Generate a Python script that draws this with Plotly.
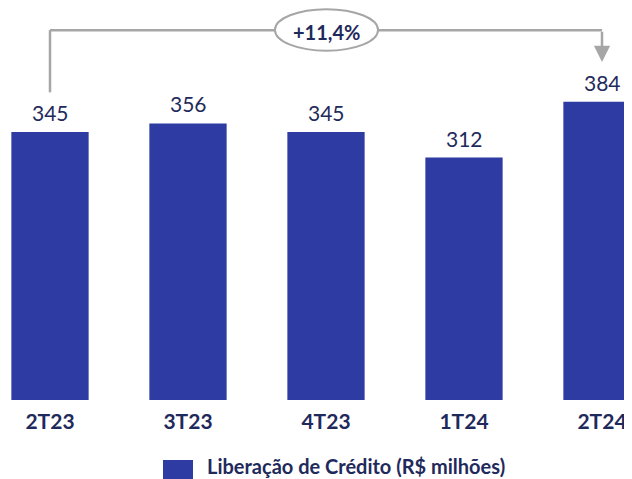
import plotly.graph_objects as go

categories = ["2T23", "3T23", "4T23", "1T24", "2T24"]
values = [345, 356, 345, 312, 384]
growth_label = "+11,4%"
series_name = "Liberação de Crédito (R$ milhões)"

BAR = "#2D3BA3"
NAVY = "#1F2A5C"
GRAY = "#A6A6A6"
FONT = "Lato"

xs = list(range(len(categories)))
fig = go.Figure()
fig.add_trace(go.Bar(
    x=xs, y=values, name=series_name, showlegend=False,
    marker=dict(color=BAR, line=dict(width=0)), width=0.56,
))
for x, v in zip(xs, values):
    fig.add_annotation(x=x, y=v, xref="x", yref="y", text=str(v), showarrow=False,
                       yanchor="bottom", yshift=5,
                       font=dict(family=FONT, size=21, color=NAVY))

x_first, x_last = 0, len(categories) - 1
top = 476
# bracket
fig.add_shape(type="line", xref="x", yref="y", x0=x_first, x1=x_first,
              y0=values[0] + 51, y1=top, line=dict(color=GRAY, width=2.5))
fig.add_shape(type="line", xref="x", yref="y", x0=x_first, x1=x_last,
              y0=top, y1=top, line=dict(color=GRAY, width=2.5))
fig.add_annotation(x=x_last, y=values[-1] + 51, ax=x_last, ay=top, xref="x", yref="y",
                   axref="x", ayref="y", text="", showarrow=True, arrowhead=2,
                   arrowsize=1.3, arrowwidth=2.5, arrowcolor=GRAY)
fig.add_shape(type="circle", xref="x", yref="y", x0=1.63, x1=2.377, y0=449.5, y1=503,
              fillcolor="white", line=dict(color=GRAY, width=2), layer="above")
fig.add_annotation(x=2.0, y=474, xref="x", yref="y", text="<b>%s</b>" % growth_label,
                   showarrow=False, font=dict(family=FONT, size=20, color=NAVY))

W = 632
# legend key (drawn)
fig.add_shape(type="rect", xref="paper", yref="paper", x0=155 / W, x1=185 / W,
              y0=-0.153, y1=-0.2015, fillcolor=BAR, line=dict(width=0))
fig.add_annotation(xref="paper", yref="paper", x=197 / W, y=-0.168, xanchor="left",
                   yanchor="middle", text="<b>%s</b>" % series_name, showarrow=False,
                   font=dict(family=FONT, size=20, color=NAVY))

fig.update_layout(
    width=W, height=471, margin=dict(l=0, r=0, t=0, b=79, autoexpand=False),
    paper_bgcolor="white", plot_bgcolor="white",
    showlegend=False,
    xaxis=dict(range=[-42 / 138, (W - 42) / 138], tickmode="array",
               tickvals=xs,
               ticktext=["<b>%s</b>" % c for c in categories],
               tickfont=dict(family=FONT, size=21, color=NAVY),
               ticks="outside", ticklen=3, tickcolor="white", automargin=False,
               showgrid=False, zeroline=False, showline=False),
    yaxis=dict(range=[0, 504.5], visible=False, showgrid=False),
)
fig.write_html("out.html")
